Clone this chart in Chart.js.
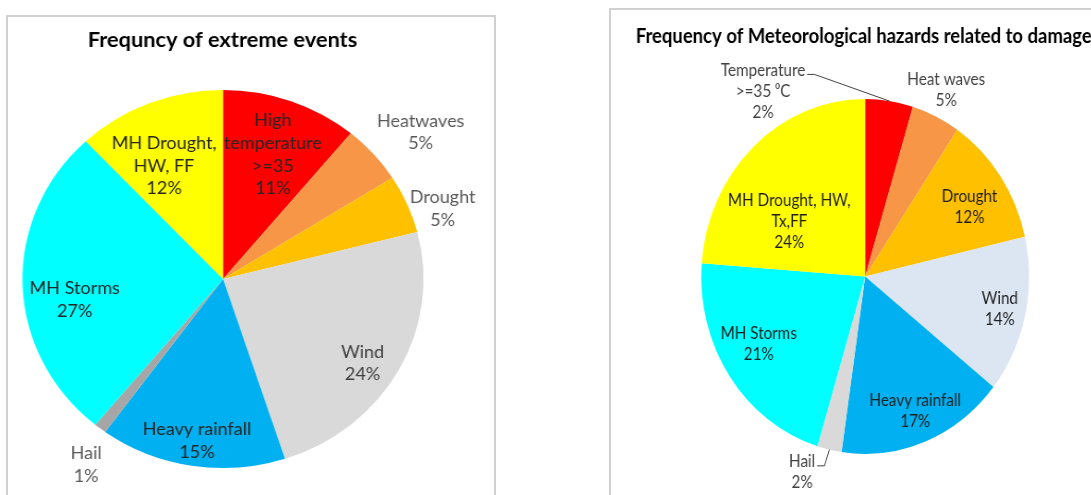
<!DOCTYPE html>
<html>
<head>
<meta charset="utf-8">
<script src="https://cdn.jsdelivr.net/npm/chart.js@4.4.1/dist/chart.umd.min.js"></script>
<style>
html, body { margin: 0; padding: 0; background: #fff; width: 1091px; height: 495px; overflow: hidden; position: relative; }
.box { position: absolute; box-sizing: border-box; border: 2px solid #d0d0d0; }
.wrap { position: absolute; top: 0; transform-origin: 0 0; }
canvas { display: block; }
</style>
</head>
<body>
<div class="box" style="left:6px;top:15px;width:490px;height:600px;"></div>
<div class="box" style="left:609px;top:8px;width:600px;height:600px;"></div>
<div class="wrap" id="w1" style="left:0px;transform:scaleX(1.061);"><canvas id="c1" width="460" height="495"></canvas></div>
<div class="wrap" id="w2" style="left:609px;transform:scaleX(0.924);"><canvas id="c2" width="560" height="495"></canvas></div>
<script>
// left chart: Frequncy of extreme events
const leftTitle = 'Frequncy of extreme events';
const leftNames = [['High', 'temperature', '>=35'], ['Heatwaves'], ['Drought'], ['Wind'],
    ['Heavy rainfall'], ['Hail'], ['MH Storms'], ['MH Drought,', 'HW, FF']];
const leftValues = [11, 5, 5, 24, 15, 1, 27, 12];
const leftColors = ['#FF0000', '#F79646', '#FFC000', '#D9D9D9', '#00B0F0', '#A6A6A6', '#00FFFF', '#FFFF00'];

// right chart: slice sizes, printed percentages as shown
const rightTitle = 'Frequency of Meteorological hazards related to damages';
const rightNames = [['Temperature', '>=35 \u2070C'], ['Heat waves'], ['Drought'], ['Wind'],
    ['Heavy rainfall'], ['Hail'], ['MH Storms'], ['MH Drought, HW,', 'Tx,FF']];
const rightValues = [4.7, 4.8, 11.9, 14.3, 16.6, 2.4, 21.5, 23.8];
const rightPrinted = [2, 5, 12, 14, 17, 2, 21, 24];
const rightColors = ['#FF0000', '#F79646', '#FFC000', '#DCE6F2', '#00B0F0', '#D9D9D9', '#00FFFF', '#FFFF00'];

const FONT = 'Lato, "Liberation Sans", sans-serif';

function labelPlugin(cfg) {
    return {
        id: 'sliceLabels',
        afterDatasetsDraw(chart) {
            const ctx = chart.ctx;
            const arcs = chart.getDatasetMeta(0).data;
            ctx.save();
            ctx.textBaseline = 'middle';
            ctx.fillStyle = '#000';
            ctx.font = cfg.titleFont;
            ctx.textAlign = cfg.titleAlign;
            ctx.fillText(cfg.title, cfg.titleX, cfg.titleY);

            ctx.font = cfg.font;
            ctx.textAlign = 'center';
            arcs.forEach((arc, i) => {
                const p = cfg.place[i];
                const mid = (arc.startAngle + arc.endAngle) / 2;
                const a = mid + p.da * Math.PI / 180;
                const x = arc.x + Math.cos(a) * arc.outerRadius * p.r;
                const y = arc.y + Math.sin(a) * arc.outerRadius * p.r;
                const lines = cfg.names[i].concat(cfg.pct[i] + '%');
                const top = y - (lines.length - 1) * cfg.lineH / 2;
                ctx.fillStyle = p.color || cfg.color;
                lines.forEach((t, k) => ctx.fillText(t, x, top + k * cfg.lineH));
                if (p.leader) {
                    const w = ctx.measureText(lines[0]).width;
                    const lx = x + w / 2 + 2;
                    const ly = top + 4;
                    ctx.strokeStyle = '#404040';
                    ctx.lineWidth = 1;
                    ctx.beginPath();
                    ctx.moveTo(lx, ly);
                    ctx.lineTo(lx + 8, ly);
                    ctx.lineTo(arc.x + Math.cos(mid) * arc.outerRadius, arc.y + Math.sin(mid) * arc.outerRadius);
                    ctx.stroke();
                }
            });
            ctx.restore();
        }
    };
}

function makePie(id, values, colors, radius, padding, plugin) {
    return new Chart(document.getElementById(id), {
        type: 'pie',
        data: {
            labels: values.map((v, i) => i),
            datasets: [{
                data: values,
                backgroundColor: colors,
                borderWidth: 0
            }]
        },
        options: {
            responsive: false,
            animation: false,
            radius: radius,
            layout: { padding: padding },
            plugins: {
                legend: { display: false },
                tooltip: { enabled: false }
            }
        },
        plugins: [plugin]
    });
}

makePie('c1', leftValues, leftColors, 189, { left: 0, right: 39.6, top: 79, bottom: 16 }, labelPlugin({
    title: leftTitle,
    titleFont: 'bold 20.5px ' + FONT,
    titleAlign: 'center',
    titleX: 209.7,
    titleY: 40,
    font: '17px ' + FONT,
    lineH: 22.7,
    color: '#262626',
    names: leftNames,
    pct: leftValues,
    place: [
        { r: 0.703, da: 0.9 },
        { r: 1.254, da: 3.2, color: '#595959' },
        { r: 1.156, da: 4.7, color: '#595959' },
        { r: 0.827, da: 3.9, color: '#404040' },
        { r: 0.868, da: -0.4 },
        { r: 1.199, da: -3.1, color: '#595959' },
        { r: 0.748, da: -6.7 },
        { r: 0.666, da: -4.6 }
    ]
}));

makePie('c2', rightValues, rightColors, 177.4, { left: 0, right: 5.6, top: 86.5, bottom: 28.5 }, labelPlugin({
    title: rightTitle,
    titleFont: 'bold 20px ' + FONT,
    titleAlign: 'left',
    titleX: 28.9,
    titleY: 37,
    font: '16.5px ' + FONT,
    lineH: 21,
    color: '#1f1f1f',
    names: rightNames,
    pct: rightPrinted,
    place: [
        { r: 1.215, da: -39.3, leader: true, color: '#404040' },
        { r: 1.16, da: -0.3, color: '#404040' },
        { r: 0.746, da: 3.0 },
        { r: 0.842, da: 0 },
        { r: 0.819, da: -0.3 },
        { r: 1.169, da: 6.6, leader: true, color: '#404040' },
        { r: 0.752, da: 4.1 },
        { r: 0.558, da: -13.2 }
    ]
}));
</script>
</body>
</html>
